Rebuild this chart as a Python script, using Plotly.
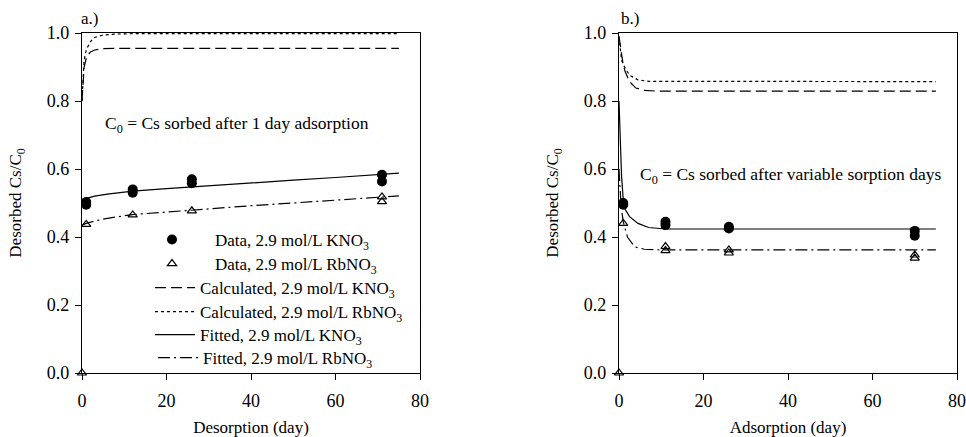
import plotly.graph_objects as go

# ---------------- Panel a (desorption) ----------------
a_k_data_x = [1, 1, 12, 12, 26, 26, 71, 71]
a_k_data_y = [0.503, 0.495, 0.540, 0.530, 0.570, 0.558, 0.583, 0.563]
a_rb_data_x = [0, 1, 12, 26, 71, 71]
a_rb_data_y = [0.0, 0.437, 0.465, 0.477, 0.518, 0.504]

a_calc_k_x = [0, 0.2, 0.5, 1, 1.5, 2, 3, 5, 8, 75]
a_calc_k_y = [0.80, 0.86, 0.90, 0.925, 0.937, 0.944, 0.950, 0.954, 0.955, 0.955]
a_calc_rb_x = [0, 0.2, 0.5, 1, 1.5, 2, 3, 5, 8, 12, 75]
a_calc_rb_y = [0.80, 0.87, 0.92, 0.95, 0.965, 0.975, 0.987, 0.994, 0.997, 0.998, 0.998]
a_fit_k_x = [0, 1, 3, 6, 12, 20, 30, 40, 50, 60, 70, 75]
a_fit_k_y = [0.510, 0.514, 0.520, 0.526, 0.535, 0.542, 0.551, 0.559, 0.567, 0.575, 0.584, 0.588]
a_fit_rb_x = [0, 1, 3, 6, 12, 20, 30, 40, 50, 60, 70, 75]
a_fit_rb_y = [0.435, 0.440, 0.447, 0.455, 0.466, 0.474, 0.483, 0.492, 0.500, 0.508, 0.516, 0.521]

# ---------------- Panel b (adsorption) ----------------
b_k_data_x = [1, 1, 11, 11, 26, 26, 70, 70]
b_k_data_y = [0.500, 0.495, 0.445, 0.435, 0.430, 0.425, 0.418, 0.404]
b_rb_data_x = [0, 1, 11, 11, 26, 26, 70, 70]
b_rb_data_y = [0.0, 0.440, 0.372, 0.360, 0.362, 0.353, 0.347, 0.338]

b_calc_k_x = [0, 0.5, 1, 1.5, 2.5, 4, 6, 9, 75]
b_calc_k_y = [0.99, 0.94, 0.905, 0.885, 0.857, 0.838, 0.831, 0.829, 0.829]
b_calc_rb_x = [0, 0.3, 0.6, 1.3, 2.5, 4.5, 7, 75]
b_calc_rb_y = [0.99, 0.95, 0.92, 0.90, 0.876, 0.862, 0.858, 0.857]
b_fit_k_x = [0, 0.3, 0.6, 1, 1.5, 2.5, 4.5, 7, 11, 75]
b_fit_k_y = [0.80, 0.68, 0.58, 0.51, 0.48, 0.46, 0.44, 0.428, 0.4235, 0.4235]
b_fit_rb_x = [0, 0.5, 1, 2, 3.7, 6, 10, 75]
b_fit_rb_y = [0.60, 0.49, 0.445, 0.40, 0.371, 0.364, 0.362, 0.362]

x_ticks = [0, 20, 40, 60, 80]
y_ticks = [0.0, 0.2, 0.4, 0.6, 0.8, 1.0]
y_tick_text = ["0.0", "0.2", "0.4", "0.6", "0.8", "1.0"]

names = [
    "Data, 2.9 mol/L KNO<sub>3</sub>",
    "Data, 2.9 mol/L RbNO<sub>3</sub>",
    "Calculated, 2.9 mol/L KNO<sub>3</sub>",
    "Calculated, 2.9 mol/L RbNO<sub>3</sub>",
    "Fitted, 2.9 mol/L KNO<sub>3</sub>",
    "Fitted, 2.9 mol/L RbNO<sub>3</sub>",
]
legend_ids = ["legend", "legend2", "legend3", "legend4", "legend5", "legend6"]
legend_centers_px = [240, 264, 288, 312, 335, 358]
legend_left_px = [129, 129, 150, 150, 150, 153]
legend_itemwidth = [76, 76, 40, 40, 40, 40]

FONT = "Liberation Serif, Times New Roman, serif"
BLACK = "black"
LW = 1.2
DASH_CALC = "11px,5px"
DASH_FIT_RB = "12px,4px,2px,4px"

fig = go.Figure()


def add_panel(xa, ya, kx, ky, rx, ry, ckx, cky, crx, cry, fkx, fky, frx, fry, show):
    fig.add_trace(go.Scatter(x=ckx, y=cky, mode="lines", name=names[2], showlegend=show,
                             legend=legend_ids[2],
                             line=dict(color=BLACK, width=LW, dash=DASH_CALC),
                             xaxis=xa, yaxis=ya))
    fig.add_trace(go.Scatter(x=crx, y=cry, mode="lines", name=names[3], showlegend=show,
                             legend=legend_ids[3],
                             line=dict(color=BLACK, width=LW, dash="dot"),
                             xaxis=xa, yaxis=ya, cliponaxis=False))
    fig.add_trace(go.Scatter(x=fkx, y=fky, mode="lines", name=names[4], showlegend=show,
                             legend=legend_ids[4],
                             line=dict(color=BLACK, width=LW),
                             xaxis=xa, yaxis=ya))
    fig.add_trace(go.Scatter(x=frx, y=fry, mode="lines", name=names[5], showlegend=show,
                             legend=legend_ids[5],
                             line=dict(color=BLACK, width=LW, dash=DASH_FIT_RB),
                             xaxis=xa, yaxis=ya))
    fig.add_trace(go.Scatter(x=kx, y=ky, mode="markers", name=names[0], showlegend=show,
                             legend=legend_ids[0],
                             marker=dict(symbol="circle", size=10, color=BLACK),
                             xaxis=xa, yaxis=ya, cliponaxis=False))
    fig.add_trace(go.Scatter(x=rx, y=ry, mode="markers", name=names[1], showlegend=show,
                             legend=legend_ids[1],
                             marker=dict(symbol="triangle-up-open", size=8, color=BLACK,
                                         line=dict(width=1.2)),
                             xaxis=xa, yaxis=ya, cliponaxis=False))


add_panel("x", "y", a_k_data_x, a_k_data_y, a_rb_data_x, a_rb_data_y,
          a_calc_k_x, a_calc_k_y, a_calc_rb_x, a_calc_rb_y,
          a_fit_k_x, a_fit_k_y, a_fit_rb_x, a_fit_rb_y, True)
add_panel("x2", "y2", b_k_data_x, b_k_data_y, b_rb_data_x, b_rb_data_y,
          b_calc_k_x, b_calc_k_y, b_calc_rb_x, b_calc_rb_y,
          b_fit_k_x, b_fit_k_y, b_fit_rb_x, b_fit_rb_y, False)

W, H = 966, 437
ydom = [(H - 373) / H, (H - 33) / H]

xaxis_common = dict(
    showgrid=False, zeroline=False, showline=True, linecolor=BLACK, linewidth=1.2,
    mirror=True, ticks="outside", ticklen=6, tickcolor=BLACK, tickwidth=1,
    automargin=False, ticklabelstandoff=5,
    tickfont=dict(family=FONT, size=18, color=BLACK),
    title_font=dict(family=FONT, size=17, color=BLACK),
)
yaxis_common = dict(xaxis_common)
yaxis_common["ticklabelstandoff"] = 2

layout_legends = {}
for lid, cy, lx, iw in zip(legend_ids, legend_centers_px, legend_left_px, legend_itemwidth):
    layout_legends[lid] = dict(
        x=lx / W, y=1 - cy / H, xanchor="left", yanchor="middle",
        bgcolor="rgba(0,0,0,0)", borderwidth=0, itemwidth=iw,
        font=dict(family=FONT, size=17, color=BLACK),
    )

fig.update_layout(
    width=W, height=H,
    margin=dict(l=0, r=0, t=0, b=0),
    paper_bgcolor="white", plot_bgcolor="white",
    font=dict(family=FONT, size=17, color=BLACK),
    xaxis=dict(domain=[82 / W, 420 / W], range=[0, 80], tickvals=x_ticks,
               title=dict(text="Desorption (day)", standoff=12), anchor="y", **xaxis_common),
    yaxis=dict(domain=ydom, range=[0, 1.0], tickvals=y_ticks, ticktext=y_tick_text,
               title=dict(text="Desorbed Cs/C<sub>0</sub>", standoff=20), anchor="x", **yaxis_common),
    xaxis2=dict(domain=[619 / W, 957 / W], range=[0, 80], tickvals=x_ticks,
                title=dict(text="Adsorption (day)", standoff=12), anchor="y2", **xaxis_common),
    yaxis2=dict(domain=ydom, range=[0, 1.0], tickvals=y_ticks, ticktext=y_tick_text,
                title=dict(text="Desorbed Cs/C<sub>0</sub>", standoff=20), anchor="x2", **yaxis_common),
    showlegend=True,
    **layout_legends,
)

fig.add_annotation(text="a.)", xref="x domain", yref="y domain", x=-0.008, y=1.044,
                   xanchor="left", yanchor="middle", showarrow=False,
                   font=dict(family=FONT, size=17, color=BLACK))
fig.add_annotation(text="b.)", xref="x2 domain", yref="y2 domain", x=0.0, y=1.044,
                   xanchor="left", yanchor="middle", showarrow=False,
                   font=dict(family=FONT, size=17, color=BLACK))
fig.add_annotation(text="C<sub>0</sub> = Cs sorbed after 1 day adsorption", xref="x", yref="y",
                   x=5, y=0.73, xanchor="left", yanchor="middle", showarrow=False,
                   font=dict(family=FONT, size=17.5, color=BLACK))
fig.add_annotation(text="C<sub>0</sub> = Cs sorbed after variable sorption days", xref="x2", yref="y2",
                   x=4.4, y=0.58, xanchor="left", yanchor="middle", showarrow=False,
                   font=dict(family=FONT, size=17.5, color=BLACK))

fig.write_html("out.html")
